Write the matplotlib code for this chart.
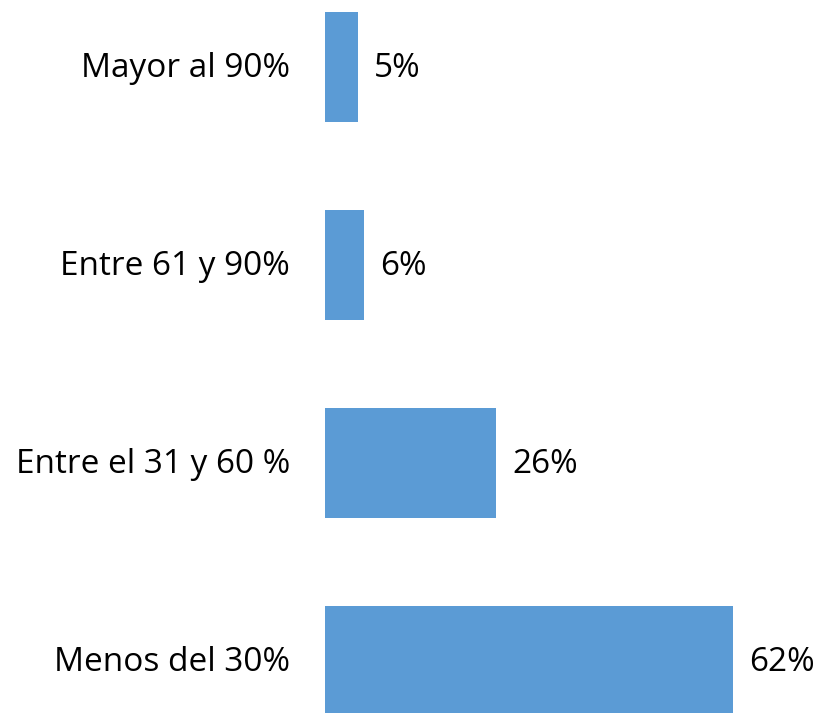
import matplotlib
matplotlib.use("Agg")
import matplotlib.pyplot as plt

categories = ["Menos del 30%", "Entre el 31 y 60 %", "Entre 61 y 90%", "Mayor al 90%"]
values = [62, 26, 6, 5]
value_labels = ["62%", "26%", "6%", "5%"]

plt.rcParams['font.family'] = ['Open Sans', 'DejaVu Sans']

W, H = 820, 713
fig = plt.figure(figsize=(W/100, H/100), dpi=100)
ax = fig.add_axes([325/W, 0, (W-325)/W, 1])
px_per_unit = 408/62
ax.set_xlim(0, (W-325)/px_per_unit)
ax.set_ylim(-52/198, 3 + 67/198)

ypos = list(range(len(categories)))
ax.barh(ypos, values, height=0.555, color="#5B9BD5")
for y, v, lab in zip(ypos, values, value_labels):
    ax.text(v + 16/px_per_unit, y - 0.01, lab, va="center", ha="left", fontsize=24, color="#000000")
for y, c in zip(ypos, categories):
    ax.text(-35/px_per_unit, y - 0.01, c, va="center", ha="right", fontsize=24, color="#000000", clip_on=False)

ax.axis("off")
fig.savefig("out.png", dpi=100)
